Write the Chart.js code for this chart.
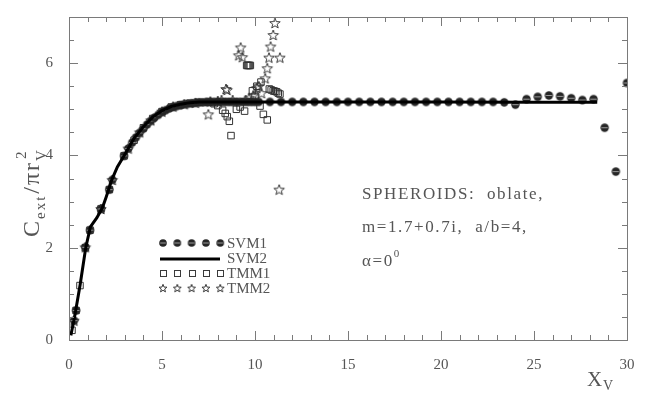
<!DOCTYPE html>
<html>
  <head>
    <title>Spheroids extinction</title>
    <script src="https://cdn.jsdelivr.net/npm/chart.js@4"></script>
    <style>
      body { margin: 0; background: #fff; }
      #wrap { width: 651px; height: 394px; }
    </style>
  </head>
  <body>
    <div id="wrap"><canvas id="extChart"></canvas></div>
    <script>
      // SVM1 (filled dots)
      var svm1X = [0.27, 0.38, 0.88, 1.13, 1.72, 2.17, 2.33, 2.96, 3.19, 3.4, 3.6, 3.8, 4.0, 4.2, 4.4, 4.6, 4.8, 5.0, 5.2, 5.4, 5.6, 5.8, 6.0, 6.2, 6.4, 6.6, 6.8, 7.0, 7.2, 7.4, 7.6, 7.8, 8.0, 8.2, 8.4, 8.6, 8.8, 9.0, 9.2, 9.4, 9.6, 9.8, 10.0, 10.2, 10.8, 11.4, 12.0, 12.6, 13.2, 13.8, 14.4, 15.0, 15.6, 16.2, 16.8, 17.4, 18.0, 18.6, 19.2, 19.8, 20.4, 21.0, 21.6, 22.2, 22.8, 23.4, 24.0, 24.6, 25.2, 25.8, 26.4, 27.0, 27.6, 28.2, 28.8, 29.4, 30.0];
      var svm1Y = [0.42, 0.64, 2.01, 2.38, 2.84, 3.26, 3.47, 3.99, 4.15, 4.28, 4.39, 4.49, 4.58, 4.67, 4.75, 4.82, 4.88, 4.94, 4.98, 5.02, 5.05, 5.07, 5.09, 5.11, 5.12, 5.13, 5.14, 5.15, 5.15, 5.16, 5.16, 5.16, 5.16, 5.16, 5.16, 5.16, 5.16, 5.16, 5.16, 5.16, 5.16, 5.16, 5.16, 5.16, 5.16, 5.16, 5.16, 5.16, 5.16, 5.16, 5.16, 5.16, 5.16, 5.16, 5.16, 5.16, 5.16, 5.16, 5.16, 5.16, 5.16, 5.16, 5.16, 5.16, 5.16, 5.15, 5.1, 5.22, 5.27, 5.3, 5.28, 5.24, 5.2, 5.22, 4.6, 3.65, 5.57];

      // SVM2 (solid line)
      var svm2X = [0.1, 0.3, 0.6, 0.9, 1.15, 1.5, 1.8, 2.0, 2.3, 2.6, 3.0, 3.5, 4.0, 4.5, 5.0, 5.5, 6.0, 6.5, 7.0, 8.0, 10.0, 15.0, 20.0, 25.0, 28.4];
      var svm2Y = [0.1, 0.5, 1.2, 2.0, 2.45, 2.65, 2.87, 3.1, 3.47, 3.75, 4.02, 4.37, 4.62, 4.83, 4.97, 5.06, 5.11, 5.14, 5.16, 5.16, 5.16, 5.16, 5.16, 5.15, 5.15];

      // TMM1 (open squares)
      var tmm1X = [0.16, 0.38, 0.59, 0.88, 1.13, 1.72, 2.17, 2.96, 3.5, 4.0, 4.5, 5.0, 5.5, 6.0, 6.5, 7.0, 7.5, 7.8, 8.0, 8.26, 8.4, 8.51, 8.62, 8.71, 9.0, 9.2, 9.44, 9.55, 9.6, 9.65, 9.7, 9.75, 9.86, 10.0, 10.1, 10.27, 10.32, 10.45, 10.66, 10.77, 10.87, 10.98, 11.07, 11.16, 11.25, 11.34];
      var tmm1Y = [0.21, 0.64, 1.18, 2.0, 2.38, 2.84, 3.26, 3.99, 4.33, 4.6, 4.8, 4.95, 5.05, 5.1, 5.13, 5.15, 5.15, 5.12, 5.08, 4.98, 4.91, 4.84, 4.74, 4.43, 5.0, 5.05, 4.96, 5.95, 5.95, 5.95, 5.95, 5.95, 5.4, 5.28, 5.5, 5.07, 5.59, 4.89, 4.77, 5.44, 5.42, 5.4, 5.39, 5.38, 5.35, 5.33];

      // TMM2 (open stars)
      var tmm2X = [0.27, 0.88, 1.72, 2.33, 3.19, 3.8, 4.4, 5.0, 5.6, 6.2, 6.8, 7.49, 7.6, 8.0, 8.2, 8.44, 8.5, 8.8, 9.12, 9.23, 9.32, 9.5, 9.7, 9.9, 10.09, 10.2, 10.35, 10.55, 10.66, 10.75, 10.84, 10.98, 11.07, 11.34, 11.3];
      var tmm2Y = [0.42, 2.01, 2.84, 3.47, 4.15, 4.5, 4.76, 4.95, 5.06, 5.11, 5.14, 4.89, 5.17, 5.18, 5.2, 5.44, 5.42, 5.2, 6.17, 6.34, 6.13, 5.2, 5.25, 5.3, 5.46, 5.5, 5.35, 5.67, 5.89, 6.12, 6.36, 6.61, 6.87, 6.12, 3.26];

      var xTicks = [0, 5, 10, 15, 20, 25, 30];
      var yTicks = [0, 2, 4, 6];
      var legendNames = ["SVM1", "SVM2", "TMM1", "TMM2"];
      var noteLines = ["SPHEROIDS:  oblate,", "m=1.7+0.7i,  a/b=4,"];

      function pts(xs, ys) {
        return xs.map(function (x, i) { return { x: x, y: ys[i] }; });
      }

      function makeDot(r) {
        var c = document.createElement("canvas");
        var s = Math.ceil(r * 2 + 2);
        c.width = s; c.height = s;
        var g = c.getContext("2d");
        g.fillStyle = "#262626";
        g.beginPath();
        g.arc(s / 2, s / 2, r, 0, Math.PI * 2);
        g.fill();
        g.strokeStyle = "#9a9a9a";
        g.lineWidth = 1;
        g.beginPath();
        g.moveTo(s / 2 - r + 1, s / 2);
        g.lineTo(s / 2 + r - 1, s / 2);
        g.stroke();
        return c;
      }

      function starPath(g, cx, cy, ro, ri) {
        g.beginPath();
        for (var k = 0; k < 10; k++) {
          var a = -Math.PI / 2 + k * Math.PI / 5;
          var rr = k % 2 === 0 ? ro : ri;
          var px = cx + rr * Math.cos(a), py = cy + rr * Math.sin(a);
          if (k === 0) g.moveTo(px, py); else g.lineTo(px, py);
        }
        g.closePath();
      }

      function makeStar(ro) {
        var c = document.createElement("canvas");
        var s = Math.ceil(ro * 2 + 3);
        c.width = s; c.height = s;
        var g = c.getContext("2d");
        g.strokeStyle = "#3a3a3a";
        g.lineWidth = 1;
        starPath(g, s / 2, s / 2 + 0.5, ro, ro * 0.42);
        g.stroke();
        return c;
      }

      var dotImg = makeDot(4.2);
      var starImg = makeStar(5.5);
      var dotSmall = makeDot(3.8);
      var starSmall = makeStar(4.2);

      var frame = {
        id: "frame",
        afterDraw: function (chart) {
          var ctx = chart.ctx, a = chart.chartArea;
          var xs = chart.scales.x, ys = chart.scales.y;
          ctx.save();
          ctx.strokeStyle = "#7a7a7a";
          ctx.lineWidth = 1;
          ctx.strokeRect(a.left + 0.5, a.top + 0.5, a.right - a.left, a.bottom - a.top);
          ctx.beginPath();
          for (var i = 0; i <= 30; i++) {
            var px = Math.round(xs.getPixelForValue(i)) + 0.5;
            var len = i % 5 === 0 ? 9 : 5;
            ctx.moveTo(px, a.bottom); ctx.lineTo(px, a.bottom - len);
            ctx.moveTo(px, a.top); ctx.lineTo(px, a.top + len);
          }
          for (var j = 0; j <= 14; j++) {
            var v = j / 2;
            var py = Math.round(ys.getPixelForValue(v)) + 0.5;
            var l2 = v % 2 === 0 ? 9 : 5;
            ctx.moveTo(a.left, py); ctx.lineTo(a.left + l2, py);
            ctx.moveTo(a.right, py); ctx.lineTo(a.right - l2, py);
          }
          ctx.stroke();

          // legend
          var rows = [243, 258, 273, 288];
          ctx.font = "15px 'Liberation Serif', serif";
          ctx.fillStyle = "#555";
          ctx.textBaseline = "middle";
          rows.forEach(function (ry, n) {
            if (n === 1) {
              ctx.strokeStyle = "#000";
              ctx.lineWidth = 3;
              ctx.beginPath();
              ctx.moveTo(160, ry + 1); ctx.lineTo(220, ry + 1);
              ctx.stroke();
            } else {
              for (var m = 0; m < 5; m++) {
                var mx = 163 + m * 14.3;
                if (n === 0) ctx.drawImage(dotSmall, mx - dotSmall.width / 2, ry - dotSmall.height / 2);
                if (n === 2) {
                  ctx.strokeStyle = "#3a3a3a"; ctx.lineWidth = 1;
                  ctx.strokeRect(Math.round(mx) - 2.5, Math.round(ry) - 2.5, 6, 6);
                }
                if (n === 3) ctx.drawImage(starSmall, mx - starSmall.width / 2, ry - starSmall.height / 2);
              }
            }
            ctx.fillText(legendNames[n], 227, ry + 1);
          });

          // annotation
          ctx.font = "17px 'Liberation Serif', serif";
          ctx.letterSpacing = "1.6px";
          ctx.fillStyle = "#555";
          ctx.textBaseline = "alphabetic";
          ctx.fillText(noteLines[0], 362, 199);
          ctx.fillText(noteLines[1], 362, 232);
          ctx.fillText("\u03b1=0", 362, 266);
          var w = ctx.measureText("\u03b1=0").width;
          ctx.font = "11px 'Liberation Serif', serif";
          ctx.fillText("0", 362 + w, 257);
          ctx.letterSpacing = "0px";

          // x title
          ctx.font = "21px 'Liberation Serif', serif";
          ctx.fillText("X", 587, 386);
          ctx.font = "14px 'Liberation Serif', serif";
          ctx.fillText("V", 603, 390);

          // y title (rotated)
          ctx.translate(39, 237);
          ctx.rotate(-Math.PI / 2);
          var x0 = 0;
          ctx.letterSpacing = "2px";
          ctx.font = "24px 'Liberation Serif', serif";
          ctx.fillText("C", x0, 0); x0 += ctx.measureText("C").width;
          ctx.font = "15px 'Liberation Serif', serif";
          ctx.fillText("ext", x0, 6); x0 += ctx.measureText("ext").width + 1;
          ctx.font = "24px 'Liberation Serif', serif";
          ctx.fillText("/\u03c0r", x0, 0); x0 += ctx.measureText("/\u03c0r").width;
          ctx.font = "15px 'Liberation Serif', serif";
          ctx.fillText("V", x0, 7);
          ctx.fillText("2", x0 + 2, -13);
          ctx.restore();
        }
      };

      window.onload = function () {
        new Chart(document.getElementById("extChart").getContext("2d"), {
          type: "scatter",
          data: {
            datasets: [
              { label: "SVM2", data: pts(svm2X, svm2Y), showLine: true, borderColor: "#000", borderWidth: 3, pointRadius: 0, tension: 0 },
              { label: "SVM1", data: pts(svm1X, svm1Y), pointStyle: dotImg, showLine: false },
              { label: "TMM1", data: pts(tmm1X, tmm1Y), pointStyle: "rect", pointRadius: 4.6, borderColor: "#333", borderWidth: 1, backgroundColor: "rgba(0,0,0,0)", showLine: false },
              { label: "TMM2", data: pts(tmm2X, tmm2Y), pointStyle: starImg, showLine: false }
            ]
          },
          options: {
            responsive: true,
            maintainAspectRatio: false,
            animation: false,
            layout: { padding: { left: 0, top: 11, right: 24, bottom: 0 } },
            plugins: { legend: { display: false }, tooltip: { enabled: false } },
            scales: {
              x: {
                min: 0, max: 30,
                grid: { display: false },
                border: { display: false },
                ticks: { padding: 8, color: "#555", font: { family: "'Liberation Serif', serif", size: 15 }, maxRotation: 0 },
                afterBuildTicks: function (s) { s.ticks = xTicks.map(function (v) { return { value: v }; }); },
                afterFit: function (s) { s.height = 54; }
              },
              y: {
                min: 0, max: 7,
                grid: { display: false },
                border: { display: false },
                ticks: { padding: 8, color: "#555", font: { family: "'Liberation Serif', serif", size: 15 } },
                afterBuildTicks: function (s) { s.ticks = yTicks.map(function (v) { return { value: v }; }); },
                afterFit: function (s) { s.width = 69; }
              }
            }
          },
          plugins: [frame]
        });
      };
    </script>
  </body>
</html>
